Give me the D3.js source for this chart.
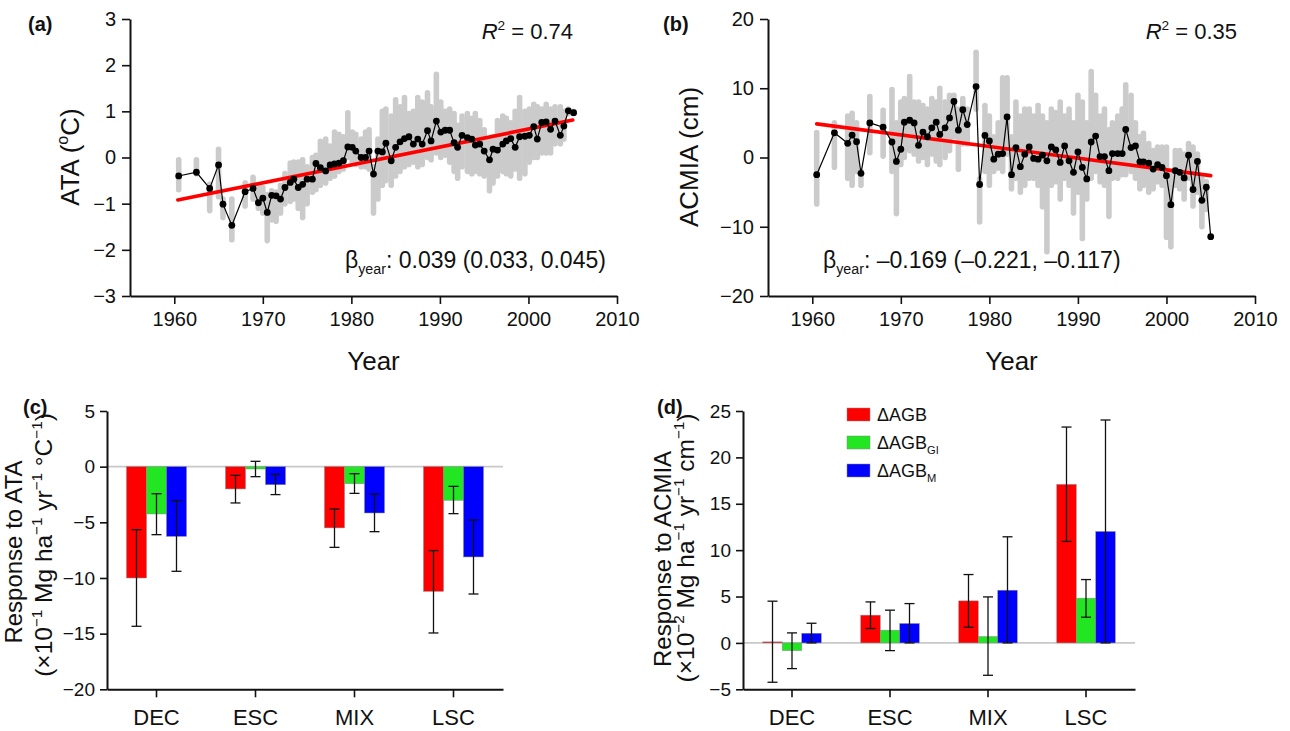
<!DOCTYPE html>
<html><head><meta charset="utf-8">
<script src="https://cdn.jsdelivr.net/npm/d3@7"></script>
<style>
body{margin:0;background:#fff}
text{font-family:"Liberation Sans",Arial,Helvetica,sans-serif;fill:#111}
</style>
</head><body>
<svg id="chart" width="1290" height="731"></svg>
<script>
// ---------------- DATA ----------------
// Panel (a): ATA time series (black means) and spread of plot-level grey points
const ataYears = [1960.5,1962.5,1964.0,1965.0,1965.5,1966.5,1968.0,1968.9,1969.5,1970.0,1970.5,1971.0,1971.5,1972.0,1972.5,1973.1,1973.5,1974.0,1974.5,1975.0,1975.6,1976.0,1976.5,1977.1,1977.6,1978.1,1978.6,1979.1,1979.6,1980.1,1980.5,1981.1,1981.6,1982.0,1982.5,1983.0,1983.5,1983.9,1984.5,1985.0,1985.5,1986.0,1986.5,1987.0,1987.5,1988.0,1988.6,1989.0,1989.6,1990.1,1990.6,1991.1,1991.6,1992.0,1992.5,1993.1,1993.6,1994.0,1994.5,1995.0,1995.6,1996.0,1996.5,1997.1,1997.5,1998.0,1998.5,1999.0,1999.6,2000.1,2000.6,2001.0,2001.5,2002.0,2002.5,2003.0,2003.6,2004.0,2004.5,2005.1];
const ataMean = [-0.40,-0.32,-0.67,-0.16,-1.01,-1.47,-0.74,-0.67,-0.98,-0.88,-1.19,-0.82,-0.83,-0.90,-0.65,-0.54,-0.47,-0.65,-0.58,-0.47,-0.47,-0.13,-0.22,-0.29,-0.16,-0.14,-0.12,-0.07,0.23,0.22,0.14,0.00,0.00,0.14,-0.36,0.14,0.12,0.31,-0.07,0.22,0.34,0.41,0.45,0.29,0.40,0.29,0.58,0.36,0.79,0.55,0.59,0.59,0.32,0.22,0.48,0.43,0.40,0.27,0.29,0.14,-0.05,0.18,0.16,0.29,0.36,0.41,0.22,0.45,0.46,0.48,0.67,0.40,0.76,0.77,0.61,0.79,0.48,0.68,1.01,0.97];
const ataLo = [-0.70,-0.35,-1.15,-0.85,-1.30,-1.78,-1.05,-0.90,-1.10,-1.20,-1.80,-1.35,-1.38,-1.20,-1.00,-0.95,-0.90,-1.10,-1.30,-1.00,-0.75,-0.70,-0.60,-0.55,-0.45,-0.40,-0.30,-0.25,0.00,-0.10,-0.15,-0.20,-0.20,-0.25,-1.20,-0.90,-0.60,-0.50,-0.60,-0.40,-0.30,-0.20,-0.15,-0.10,-0.20,-0.15,0.00,-0.05,0.10,0.00,0.05,-0.10,-0.30,-0.45,-0.20,-0.30,-0.35,-0.30,-0.35,-0.40,-0.72,-0.55,-0.40,-0.30,-0.35,-0.40,-0.25,-0.45,-0.35,-0.10,0.00,0.00,0.10,0.10,0.10,0.30,0.30,0.40,0.95,0.95];
const ataHi = [-0.05,-0.05,-0.58,0.18,-0.90,-0.90,-0.55,-0.43,-0.60,-0.65,-0.80,-0.72,-0.75,-0.60,-0.35,-0.12,-0.10,-0.10,-0.05,-0.20,0.00,0.05,0.35,0.40,0.25,0.55,0.50,0.45,0.97,0.55,0.50,0.40,0.55,0.60,-0.20,0.40,1.00,1.05,0.90,1.25,1.10,1.30,0.95,1.00,1.30,1.20,1.40,1.10,1.80,1.20,1.00,1.05,0.95,0.70,0.90,0.95,0.85,0.95,0.80,0.60,0.40,0.45,0.80,0.90,0.85,0.75,1.00,1.30,1.00,1.05,1.15,1.10,1.05,1.15,1.05,1.10,1.10,1.00,1.05,1.00];
const ataTrendYears = [1960.4, 2005.0];
const ataTrendValues = [-0.92, 0.81];

// Panel (b): ACMIA time series
const acmiaYears = [1960.5,1962.5,1964.0,1964.5,1965.0,1965.5,1966.5,1968.0,1969.0,1969.5,1970.0,1970.4,1971.0,1971.5,1972.0,1972.5,1973.0,1973.5,1974.0,1974.4,1975.0,1975.5,1976.0,1976.5,1977.0,1977.5,1978.5,1978.9,1979.5,1980.0,1980.5,1981.0,1981.5,1982.0,1982.5,1983.0,1983.5,1984.0,1984.5,1985.0,1985.5,1986.0,1986.5,1987.0,1987.5,1988.0,1988.5,1989.0,1989.5,1990.0,1990.5,1991.0,1991.5,1992.0,1992.5,1993.0,1993.5,1993.9,1994.5,1995.0,1995.4,1996.0,1996.5,1997.0,1997.4,1998.0,1998.5,1999.0,1999.5,2000.0,2000.5,2001.0,2001.5,2002.0,2002.5,2003.0,2003.5,2004.0,2004.5,2005.0];
const acmiaMean = [-2.48,3.57,2.05,3.24,2.29,-2.29,5.0,4.38,2.24,-0.57,1.19,5.1,5.38,5.0,1.76,3.67,3.0,4.29,5.1,3.33,4.29,5.71,8.1,3.95,6.9,4.76,10.24,-3.9,3.19,2.38,-0.24,0.48,0.57,5.86,-2.48,1.43,-1.33,0.48,1.52,-0.14,-0.24,0.33,-0.48,1.52,1.1,-0.71,1.67,-0.48,-2.14,0.81,-1.43,-3.1,2.24,3.1,0.14,0.14,-1.9,0.57,0.57,0.57,4.05,1.43,1.67,-0.62,-0.62,-0.81,-1.67,-1.05,-1.43,-2.62,-6.81,-1.9,-2.14,-2.95,0.33,-4.62,-0.57,-6.19,-4.29,-11.43];
const acmiaLo = [-6.7,-1.4,-3.0,-4.0,-2.0,-4.0,0.7,0.2,-2.0,-8.1,-1.0,0.0,1.0,0.5,-0.5,0.0,-1.0,0.5,-0.5,-1.0,0.0,1.0,3.0,-1.7,2.0,2.0,7.0,-9.3,-2.0,-4.0,-2.0,-1.5,-2.0,0.5,-4.5,-3.0,-5.0,-4.0,-3.0,-3.0,-4.0,-7.1,-13.6,-4.0,-3.5,-6.0,-3.0,-4.0,-8.0,-5.0,-11.7,-6.0,-3.0,-2.0,-3.5,-4.0,-8.5,-3.0,-3.0,-2.5,-2.5,-2.0,-3.0,-4.5,-4.0,-5.0,-4.5,-3.5,-4.0,-11.5,-12.9,-4.0,-4.5,-6.0,-3.0,-7.0,-5.0,-10.0,-7.5,-11.5];
const acmiaHi = [3.6,5.0,6.0,6.4,5.0,-2.0,8.8,6.8,9.8,5.0,8.0,8.5,11.7,8.0,8.0,7.5,7.0,8.5,8.0,10.0,8.0,9.0,9.0,7.0,8.5,7.0,15.2,-3.1,7.5,6.0,3.0,5.0,11.5,11.5,3.0,8.0,6.0,7.0,7.0,6.0,7.5,6.0,5.0,7.0,6.5,8.0,6.0,7.0,5.0,9.0,8.0,5.0,12.4,9.0,6.0,7.0,4.0,5.0,6.0,7.0,10.5,9.0,5.0,3.0,3.5,2.0,1.0,1.5,1.5,1.5,-2.0,1.0,1.0,0.5,2.0,1.5,0.5,-3.0,-3.5,-11.4];
const acmiaTrendYears = [1960.5, 2005.0];
const acmiaTrendValues = [4.86, -2.62];

// Axis tick labels
const yearTicks = [1960,1970,1980,1990,2000,2010];
const ataTicks = [-3,-2,-1,0,1,2,3];
const acmiaTicks = [-20,-10,0,10,20];
const respAtaTicks = [-20,-15,-10,-5,0,5];
const respAcmiaTicks = [-5,0,5,10,15,20,25];

// Panels (c) & (d): responses by forest type
const categories = ["DEC","ESC","MIX","LSC"];
const seriesKeys = ["AGB","GI","M"];
// (c) response to ATA
const ataRespAGB   = [-10.0,-2.0,-5.5,-11.2];
const ataRespAGBLo = [-14.34,-3.26,-7.25,-14.94];
const ataRespAGBHi = [-5.66,-0.78,-3.8,-7.54];
const ataRespGI    = [-4.25,-0.21,-1.53,-3.02];
const ataRespGILo  = [-6.11,-0.9,-2.4,-4.22];
const ataRespGIHi  = [-2.43,0.48,-0.63,-1.77];
const ataRespM     = [-6.26,-1.62,-4.16,-8.11];
const ataRespMLo   = [-9.40,-2.51,-5.84,-11.44];
const ataRespMHi   = [-3.05,-0.69,-2.46,-4.79];
// (d) response to ACMIA
const acmiaRespAGB   = [0.11,2.99,4.53,17.09];
const acmiaRespAGBLo = [-4.24,1.55,1.69,10.94];
const acmiaRespAGBHi = [4.5,4.42,7.37,23.27];
const acmiaRespGI    = [-0.83,1.37,0.68,4.82];
const acmiaRespGILo  = [-2.77,-0.83,-3.49,2.77];
const acmiaRespGIHi  = [1.08,3.53,4.96,6.83];
const acmiaRespM     = [1.04,2.09,5.68,12.01];
const acmiaRespMLo   = [0,0,0,0];
const acmiaRespMHi   = [2.12,4.24,11.44,24.03];

const seriesColors = ["#ff0000","#22e622","#0000ff"];

// ---------------- DRAWING ----------------
const svg = d3.select("#chart");
const fmtInt = d3.format("d");

function rich(textSel, parts, size){
  let shift = 0;
  parts.forEach(p => {
    const s = typeof p === "string" ? p : p[0];
    const kind = typeof p === "string" ? "n" : p[1];
    let target = 0, fs = size;
    if (kind === "sup"){ target = -0.42*size; fs = size*0.62; }
    if (kind === "sub"){ target = 0.28*size; fs = size*0.62; }
    const t = textSel.append("tspan").text(s).attr("font-size", fs).attr("dy", target - shift);
    if (kind === "i") t.attr("font-style","italic");
    shift = target;
  });
}

function styleAxis(g, fs){
  g.selectAll(".domain").attr("stroke","#111").attr("stroke-width",2);
  g.selectAll(".tick line").attr("stroke","#111").attr("stroke-width",1.6);
  g.selectAll(".tick text").attr("font-size",fs).attr("fill","#111")
    .style("font-family",'"Liberation Sans",Arial,sans-serif');
}

function topPanel(o){
  const x = d3.scaleLinear().domain([1955,2010]).range([o.left, o.right]);
  const y = d3.scaleLinear().domain(o.yDomain).range([296,19]);
  const g = svg.append("g");

  // grey plot-level points (columns of dots)
  const cols = g.append("g");
  o.years.forEach((t,i) => {
    cols.append("line").attr("x1",x(t)).attr("x2",x(t))
      .attr("y1",y(o.lo[i])).attr("y2",y(o.hi[i]))
      .attr("stroke","#cbcbcb").attr("stroke-width",5.6).attr("stroke-linecap","round");
  });

  // trend line
  g.append("line")
    .attr("x1",x(o.trendYears[0])).attr("y1",y(o.trendValues[0]))
    .attr("x2",x(o.trendYears[1])).attr("y2",y(o.trendValues[1]))
    .attr("stroke","#ff0000").attr("stroke-width",3.6).attr("stroke-linecap","round");

  // mean series
  const line = d3.line().x((d,i)=>x(o.years[i])).y(d=>y(d));
  g.append("path").datum(o.mean).attr("d",line).attr("fill","none")
    .attr("stroke","#000").attr("stroke-width",1.2);
  g.selectAll(null).data(o.mean).join("circle")
    .attr("cx",(d,i)=>x(o.years[i])).attr("cy",d=>y(d)).attr("r",3.4).attr("fill","#000");

  // axes
  const ax = g.append("g").attr("transform","translate(0,296)")
    .call(d3.axisBottom(x).tickValues(yearTicks).tickFormat(fmtInt).tickSize(8).tickSizeOuter(0).tickPadding(8));
  styleAxis(ax, 20);
  const ay = g.append("g").attr("transform",`translate(${o.left},0)`)
    .call(d3.axisLeft(y).tickValues(o.yTicks).tickFormat(fmtInt).tickSize(8).tickSizeOuter(0).tickPadding(6));
  styleAxis(ay, 20);

  // titles
  g.append("text").attr("x",(o.left+o.right)/2).attr("y",370).attr("text-anchor","middle")
    .attr("font-size",26).text("Year");
  const yt = g.append("text").attr("transform",`translate(${o.yTitleX},157) rotate(-90)`)
    .attr("text-anchor","middle").attr("font-size",26);
  rich(yt, o.yTitle, 26);

  g.append("text").attr("x",o.letterX).attr("y",31).attr("font-size",20).attr("font-weight","bold").text(o.letter);

  const r2 = g.append("text").attr("x",o.r2X).attr("y",39).attr("text-anchor","end").attr("font-size",22);
  rich(r2, [["R","i"],["2","sup"]," = "+o.r2], 22);

  const bt = g.append("text").attr("x",o.betaX).attr("y",268).attr("font-size",23);
  rich(bt, ["\u03b2",["year","sub"],": "+o.beta], 23);
}

topPanel({left:130,right:617,yDomain:[-3,3],yTicks:ataTicks,years:ataYears,mean:ataMean,lo:ataLo,hi:ataHi,
  trendYears:ataTrendYears,trendValues:ataTrendValues,letter:"(a)",letterX:28,
  yTitle:["ATA (",["o","sup"],"C)"],yTitleX:79,r2:"0.74",r2X:573,betaX:345,beta:"0.039 (0.033, 0.045)"});

topPanel({left:768,right:1255,yDomain:[-20,20],yTicks:acmiaTicks,years:acmiaYears,mean:acmiaMean,lo:acmiaLo,hi:acmiaHi,
  trendYears:acmiaTrendYears,trendValues:acmiaTrendValues,letter:"(b)",letterX:663,
  yTitle:["ACMIA (cm)"],yTitleX:698,r2:"0.35",r2X:1237,betaX:823,beta:"\u20130.169 (\u20130.221, \u20130.117)"});

function bottomPanel(o){
  const x0 = d3.scaleBand().domain(categories).range([o.left,o.right]);
  const x1 = d3.scaleBand().domain(seriesKeys).range([0,o.groupW]);
  const y = d3.scaleLinear().domain(o.yDomain).range([689.3,411]);
  const g = svg.append("g");

  g.append("line").attr("x1",o.left).attr("x2",o.right).attr("y1",y(0)).attr("y2",y(0))
    .attr("stroke","#c8c8c8").attr("stroke-width",1.6);

  seriesKeys.forEach((k,si) => {
    const vals = o.values[si];
    categories.forEach((c,ci) => {
      const bx = x0(c) + x0.bandwidth()/2 - o.groupW/2 + x1(k);
      const v = vals[ci];
      g.append("rect").attr("x",bx).attr("width",x1.bandwidth())
        .attr("y",Math.min(y(v),y(0))).attr("height",Math.abs(y(v)-y(0)))
        .attr("fill",seriesColors[si]).attr("stroke","#888").attr("stroke-width",0.5);
    });
  });
  seriesKeys.forEach((k,si) => {
    const lo = o.lo[si], hi = o.hi[si];
    categories.forEach((c,ci) => {
      const cx = x0(c) + x0.bandwidth()/2 - o.groupW/2 + x1(k) + x1.bandwidth()/2;
      const eg = g.append("g").attr("stroke","#111").attr("stroke-width",1.3);
      eg.append("line").attr("x1",cx).attr("x2",cx).attr("y1",y(lo[ci])).attr("y2",y(hi[ci]));
      eg.append("line").attr("x1",cx-5).attr("x2",cx+5).attr("y1",y(lo[ci])).attr("y2",y(lo[ci]));
      eg.append("line").attr("x1",cx-5).attr("x2",cx+5).attr("y1",y(hi[ci])).attr("y2",y(hi[ci]));
    });
  });

  const ax = g.append("g").attr("transform","translate(0,689.3)")
    .call(d3.axisBottom(x0).tickSize(8).tickSizeOuter(0).tickPadding(12));
  styleAxis(ax, 22);
  const ay = g.append("g").attr("transform",`translate(${o.left},0)`)
    .call(d3.axisLeft(y).tickValues(o.yTicks).tickFormat(fmtInt).tickSize(7).tickSizeOuter(0).tickPadding(5));
  styleAxis(ay, 19);

  g.append("text").attr("x",o.letterX).attr("y",414).attr("font-size",20).attr("font-weight","bold").text(o.letter);

  const t1 = g.append("text").attr("transform",`translate(${o.t1X},${o.t1Y}) rotate(-90)`)
    .attr("text-anchor","middle").attr("font-size",24);
  rich(t1, o.title1, 24);
  const t2 = g.append("text").attr("transform",`translate(${o.t2X},${o.t2Y}) rotate(-90)`)
    .attr("text-anchor","middle").attr("font-size",24.5);
  rich(t2, o.title2, 24.5);
  return g;
}

bottomPanel({left:107,right:503,groupW:60,yDomain:[-20,5],yTicks:respAtaTicks,
  values:[ataRespAGB,ataRespGI,ataRespM],lo:[ataRespAGBLo,ataRespGILo,ataRespMLo],hi:[ataRespAGBHi,ataRespGIHi,ataRespMHi],
  letter:"(c)",letterX:23,t1X:22,t1Y:552,t2X:52,t2Y:545,
  title1:["Response to ATA"],
  title2:["(\u00d710",["\u22121","sup"]," Mg ha",["\u22121","sup"]," yr",["\u22121","sup"]," \u00b0C",["\u22121","sup"],")"]});

const gd = bottomPanel({left:743,right:1135,groupW:58.5,yDomain:[-5,25],yTicks:respAcmiaTicks,
  values:[acmiaRespAGB,acmiaRespGI,acmiaRespM],lo:[acmiaRespAGBLo,acmiaRespGILo,acmiaRespMLo],hi:[acmiaRespAGBHi,acmiaRespGIHi,acmiaRespMHi],
  letter:"(d)",letterX:657,t1X:671,t1Y:559,t2X:694,t2Y:548,
  title1:["Response to ACMIA"],
  title2:["(\u00d710",["\u22122","sup"]," Mg ha",["\u22121","sup"]," yr",["\u22121","sup"]," cm",["\u22121","sup"],")"]});

// legend (d)
const legendLabels = [["\u0394AGB"],["\u0394AGB",["GI","sub"]],["\u0394AGB",["M","sub"]]];
legendLabels.forEach((lab,i) => {
  const ly = 408 + i*28;
  gd.append("rect").attr("x",847).attr("y",ly).attr("width",23).attr("height",13)
    .attr("fill",seriesColors[i]).attr("stroke","#888").attr("stroke-width",0.5);
  const t = gd.append("text").attr("x",877).attr("y",ly+13).attr("font-size",18);
  rich(t, lab, 18);
});
</script>
</body></html>
